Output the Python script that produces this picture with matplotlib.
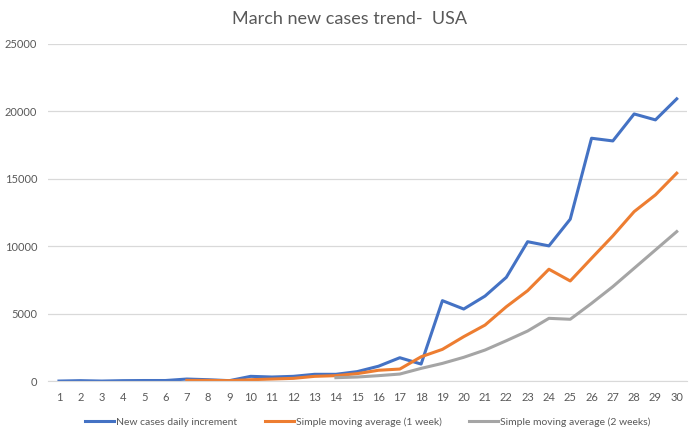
import matplotlib
matplotlib.use("Agg")
import matplotlib.pyplot as plt

# March 2020 values
days = list(range(1, 31))
daily = [0, 30, 0, 30, 40, 40, 150, 100, 30, 350, 300, 350, 500, 500, 700,
         1100, 1730, 1260, 5960, 5340, 6300, 7690, 10330, 10020, 12000,
         18000, 17800, 19800, 19360, 20920]
sma_1w_days = list(range(7, 31))
sma_1w = [50, 50, 30, 100, 150, 200, 350, 400, 550, 800, 890, 1800, 2350,
          3290, 4150, 5510, 6700, 8290, 7420, 9100, 10760, 12560, 13800, 15410]
sma_2w_days = list(range(14, 31))
sma_2w = [250, 300, 400, 520, 940, 1310, 1760, 2300, 2990, 3710, 4650, 4580,
          5760, 7000, 8360, 9720, 11080]
yticks = [0, 5000, 10000, 15000, 20000, 25000]

plt.rcParams["font.family"] = ["Lato", "DejaVu Sans"]
text_color = "#595959"

fig = plt.figure(figsize=(7, 4.38), dpi=100)
ax = fig.add_axes([0.069, 0.13, 0.913, 0.77])

ax.plot(days, daily, color="#4472C4", lw=2.2, label="New cases daily increment")
ax.plot(sma_1w_days, sma_1w, color="#ED7D31", lw=2.2, label="Simple moving average (1 week)")
ax.plot(sma_2w_days, sma_2w, color="#A5A5A5", lw=2.2, label="Simple moving average (2 weeks)")

ax.set_xlim(0.5, 30.5)
ax.set_ylim(0, 25000)
ax.set_xticks(days)
ax.set_yticks(yticks)
ax.tick_params(length=0, labelsize=8, colors=text_color, pad=8)
ax.grid(axis="y", color="#D9D9D9", lw=0.9)
ax.set_axisbelow(True)
for s in ["top", "right", "left"]:
    ax.spines[s].set_visible(False)
ax.spines["bottom"].set_color("#D9D9D9")

fig.suptitle("March new cases trend-  USA", y=0.975, fontsize=13, color=text_color)
ax.legend(loc="upper center", bbox_to_anchor=(0.5, -0.08), ncol=3, frameon=False,
          fontsize=7.5, labelcolor=text_color, handlelength=2.8, columnspacing=2.6,
          handletextpad=0.2)

fig.savefig("out.png", dpi=100)
